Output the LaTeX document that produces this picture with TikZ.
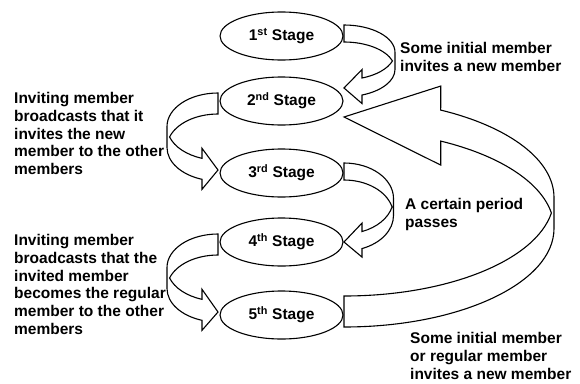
\documentclass[tikz,border=0pt]{standalone}
\usepackage{fontspec}
\setmainfont{Liberation Sans}
\usetikzlibrary{shapes.geometric}

% Parameters of a bent block arrow, drawn in local coordinates:
% tail end on the line x=0 from y=0 to y=t, bend of radii rx/ry,
% head base at x=bx, barbs sticking out by e, tip at (0,tip).
\pgfkeys{/bent/.cd,
  rx/.store in=\bRX, ry/.store in=\bRY, t/.store in=\bT,
  bx/.store in=\bBX, e/.store in=\bE, tip/.store in=\bTip}
\newcommand\bentarrow[1]{%
  \pgfkeys{/bent/.cd,#1}%
  \pgfmathsetmacro\bTh{acos(\bBX/\bRX)}%
  \pgfmathsetmacro\bPh{asin(\bT/(2*\bRY))}%
  \pgfmathsetmacro\bYa{\bRY*(1+sin(\bTh))}%
  \pgfmathsetmacro\bYb{\bYa+\bT}%
  \path[bentline] (0,0)
    arc[start angle=-90, end angle=0, x radius=\bRX, y radius=\bRY]
    -- ++(0,\bT)
    arc[start angle=0, end angle=\bTh, x radius=\bRX, y radius=\bRY]
    -- (\bBX,\bYb+\bE) -- (0,\bTip) -- (\bBX,\bYa-\bE) -- (\bBX,\bYa)
    arc[start angle=\bTh, end angle=\bPh, x radius=\bRX, y radius=\bRY]
    arc[start angle=-\bPh, end angle=-90, x radius=\bRX, y radius=\bRY]
    -- cycle;
}

\tikzset{
  stage/.style={draw, ellipse, fill=white, line width=1.1pt,
    minimum width=123pt, minimum height=48pt, inner sep=0pt,
    font=\bfseries\fontsize{15.5}{17.8}\selectfont},
  bentline/.style={draw, fill=white, line width=1.1pt, line join=miter},
  note/.style={font=\bfseries\fontsize{15.5}{17.8}\selectfont,
    align=left, inner sep=0pt, anchor=north west}
}

\begin{document}
\begin{tikzpicture}[x=1pt, y=-1pt]
  \useasboundingbox (0,0) rectangle (580,383);

  % bent arrows between the stages
  \begin{scope}[shift={(344,25)}]
    \bentarrow{rx=51, ry=27.4, t=17, bx=18, e=8.5, tip=63}
  \end{scope}
  \begin{scope}[shift={(218,93)}, xscale=-1]
    \bentarrow{rx=51, ry=33.5, t=21, bx=16, e=10, tip=77}
  \end{scope}
  \begin{scope}[shift={(344,163)}]
    \bentarrow{rx=49.5, ry=35.5, t=17, bx=18, e=8.5, tip=79}
  \end{scope}
  \begin{scope}[shift={(218,234)}, xscale=-1]
    \bentarrow{rx=51, ry=33.5, t=21, bx=16, e=10, tip=78}
  \end{scope}
  \begin{scope}[shift={(344,327)}, yscale=-1]
    \bentarrow{rx=210, ry=98.5, t=31, bx=96.7, e=24, tip=210}
  \end{scope}

  % stages
  \node[stage] (s1) at (281.5,36)  {1\textsuperscript{st} Stage};
  \node[stage] (s2) at (281.5,101) {2\textsuperscript{nd} Stage};
  \node[stage] (s3) at (281.5,173) {3\textsuperscript{rd} Stage};
  \node[stage] (s4) at (281.5,242) {4\textsuperscript{th} Stage};
  \node[stage] (s5) at (281.5,315) {5\textsuperscript{th} Stage};

  % explanations
  \node[note] (n1) at (400,42)  {Some initial member\\invites a new member};
  \node[note] (n2) at (14,92)   {Inviting member\\broadcasts that it\\invites the new\\member to the other\\members};
  \node[note] (n3) at (405,198) {A certain period\\passes};
  \node[note] (n4) at (14,234)  {Inviting member\\broadcasts that the\\invited member\\becomes the regular\\member to the other\\members};
  \node[note] (n5) at (410,332) {Some initial member\\or regular member\\invites a new member};
\end{tikzpicture}
\end{document}
